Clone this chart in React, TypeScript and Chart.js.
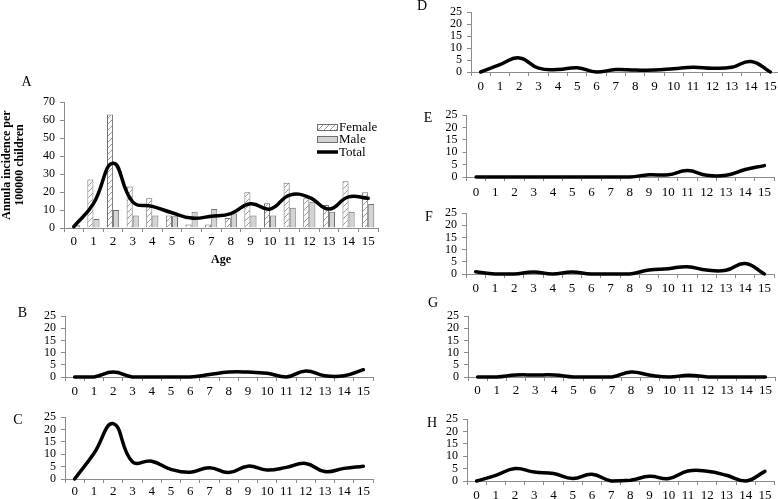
import React, { useEffect, useRef } from 'react';
import { Chart, registerables } from 'chart.js';

Chart.register(...registerables);

// ---------- data ----------
const ages = ['0', '1', '2', '3', '4', '5', '6', '7', '8', '9', '10', '11', '12', '13', '14', '15'];

const femaleA = [0.5, 27, 63, 23, 16.5, 7, 2, 2, 5.5, 19.8, 13.7, 25.2, 16.5, 12.8, 26, 19.8];
const maleA = [1.5, 5, 10, 7, 7, 6.5, 9, 10.5, 8, 7, 7, 11.3, 14.6, 9, 9, 13.3];
const totalA = [0.7, 13.5, 36, 14.5, 12, 8.5, 5.5, 6.5, 8, 13.5, 10.5, 18.3, 17, 10.5, 17.3, 16.5];

const panelB = [0, 0, 2, 0, 0, 0, 0, 1, 2, 2, 1.5, 0, 2.5, 0.5, 0.5, 3];
const panelC = [0, 10.3, 22.4, 7, 7.2, 3.9, 2.7, 4.6, 2.6, 5.2, 3.6, 4.7, 6.3, 3, 4.3, 5.2];
const panelD = [0, 3.1, 5.9, 1.6, 1, 1.8, 0, 1, 0.8, 0.8, 1.4, 2, 1.6, 2, 4.4, 0];
const panelE = [0, 0, 0, 0, 0, 0, 0, 0, 0, 0.9, 0.9, 2.6, 0.7, 0.7, 3, 4.6];
const panelF = [0.9, 0, 0, 0.8, 0, 0.8, 0, 0, 0, 1.6, 2.2, 3, 1.6, 1.5, 4.3, 0];
const panelG = [0, 0, 0.8, 0.8, 0.8, 0, 0, 0, 2, 0.7, 0, 0.7, 0, 0, 0, 0];
const panelH = [0, 2.3, 5, 3.6, 3, 1, 2.7, 0, 0.3, 1.9, 1, 4, 3.9, 2.3, 0, 3.9];

const seriesNames = ['Female', 'Male', 'Total'];
const yTitleLines = ['Annula incidence per', '100000 children'];
const xTitle = 'Age';

// ---------- styles / layout ----------
const FONT = "'Liberation Serif', 'Times New Roman', serif";
const AXIS = '#8c8c8c';

type Box = { x: number; y: number; w: number; h: number; L: number; R: number; T: number; B: number; lab: number };

const boxA: Box = { x: 0, y: 70, w: 400, h: 200, L: 64, R: 378, T: 102, B: 228, lab: 14 };
const smallPanels: { box: Box; values: number[] }[] = [
  { box: { x: 0, y: 300, w: 400, h: 100, L: 65, R: 373, T: 316, B: 377, lab: 15 }, values: panelB },
  { box: { x: 0, y: 405, w: 400, h: 94, L: 65, R: 373, T: 417, B: 479, lab: 13 }, values: panelC },
  { box: { x: 420, y: 0, w: 362, h: 100, L: 471, R: 780, T: 11, B: 72, lab: 15 }, values: panelD },
  { box: { x: 420, y: 100, w: 362, h: 100, L: 466.5, R: 774, T: 115, B: 177, lab: 16 }, values: panelE },
  { box: { x: 420, y: 200, w: 362, h: 100, L: 466, R: 774, T: 213, B: 274, lab: 15 }, values: panelF },
  { box: { x: 420, y: 300, w: 362, h: 100, L: 468, R: 775, T: 316, B: 377, lab: 14 }, values: panelG },
  { box: { x: 420, y: 405, w: 362, h: 94, L: 467, R: 774.5, T: 419, B: 481, lab: 15 }, values: panelH },
];

const letters: [string, number, number][] = [
  ['A', 26.5, 81.5],
  ['B', 22.5, 313],
  ['C', 18, 420],
  ['D', 422, 6],
  ['E', 428, 118],
  ['F', 429, 217],
  ['G', 433, 303],
  ['H', 432, 423],
];

function makeHatch(): CanvasPattern | string {
  const c = document.createElement('canvas');
  c.width = 6;
  c.height = 6;
  const g = c.getContext('2d');
  if (!g) return '#fff';
  g.fillStyle = '#ffffff';
  g.fillRect(0, 0, 6, 6);
  g.strokeStyle = '#9a9a9a';
  g.lineWidth = 1;
  g.beginPath();
  g.moveTo(-1, 7);
  g.lineTo(7, -1);
  g.moveTo(-1, 1);
  g.lineTo(1, -1);
  g.moveTo(5, 7);
  g.lineTo(7, 5);
  g.stroke();
  return g.createPattern(c, 'repeat') || '#fff';
}

function makeOptions(s: Box, yMax: number, yStep: number): any {
  return {
    responsive: false,
    animation: false,
    devicePixelRatio: 1,
    events: [],
    layout: { padding: { left: 0, top: s.T - s.y, right: s.x + s.w - s.R, bottom: 0 } },
    plugins: { legend: { display: false }, tooltip: { enabled: false }, title: { display: false } },
    scales: {
      x: {
        type: 'category',
        offset: true,
        grid: { offset: true, drawOnChartArea: false, drawTicks: true, tickLength: 4, color: AXIS, lineWidth: 1 },
        border: { display: true, color: AXIS, width: 1 },
        ticks: {
          color: '#000',
          font: { family: FONT, size: 13, lineHeight: 1 },
          padding: s.lab - 4 - 6.5,
          autoSkip: false,
          maxRotation: 0,
          minRotation: 0,
        },
        afterFit: (sc: any) => {
          sc.height = s.y + s.h - s.B;
        },
      },
      y: {
        min: 0,
        max: yMax,
        grid: { drawOnChartArea: false, drawTicks: true, tickLength: 4, color: AXIS, lineWidth: 1 },
        border: { display: true, color: AXIS, width: 1 },
        ticks: { stepSize: yStep, autoSkip: false, color: '#000', font: { family: FONT, size: 12 }, padding: 5 },
        afterFit: (sc: any) => {
          sc.width = s.L - s.x;
        },
      },
    },
  };
}

const canvasStyle = (b: Box): React.CSSProperties => ({
  position: 'absolute',
  left: b.x,
  top: b.y,
  width: b.w,
  height: b.h,
});

function PanelA() {
  const ref = useRef<HTMLCanvasElement>(null);
  useEffect(() => {
    if (!ref.current) return;
    const hatch = makeHatch();
    const maleFill = '#d3d3d3';
    const barBorder = '#6e6e6e';
    const opts = makeOptions(boxA, 70, 10);
    opts.scales.y.title = {
      display: true,
      text: yTitleLines,
      color: '#000',
      font: { family: FONT, size: 12, weight: 'bold', lineHeight: 1.1 },
      padding: { top: 0.5, bottom: 0 },
    };
    opts.scales.x.title = {
      display: true,
      text: xTitle,
      color: '#000',
      font: { family: FONT, size: 12, weight: 'bold', lineHeight: 1 },
      padding: { top: 0, bottom: 4 },
    };
    const legendPlugin = {
      id: 'panelALegend',
      afterDraw(chart: any) {
        const ctx = chart.ctx as CanvasRenderingContext2D;
        const sx = 317;
        const sw = 21;
        const rows = [127 - boxA.y, 139 - boxA.y, 152 - boxA.y];
        ctx.save();
        ctx.fillStyle = hatch as any;
        ctx.fillRect(sx, rows[0] - 3, sw, 6);
        ctx.strokeStyle = barBorder;
        ctx.lineWidth = 1;
        ctx.strokeRect(sx + 0.5, rows[0] - 3 + 0.5, sw - 1, 6);
        ctx.fillStyle = maleFill;
        ctx.fillRect(sx, rows[1] - 3, sw, 6);
        ctx.strokeRect(sx + 0.5, rows[1] - 3 + 0.5, sw - 1, 6);
        ctx.strokeStyle = '#000';
        ctx.lineWidth = 3.5;
        ctx.beginPath();
        ctx.moveTo(sx, rows[2]);
        ctx.lineTo(sx + sw, rows[2]);
        ctx.stroke();
        ctx.fillStyle = '#000';
        ctx.font = `13px ${FONT}`;
        ctx.textBaseline = 'middle';
        ctx.textAlign = 'left';
        chart.data.datasets.forEach((ds: any, i: number) => {
          ctx.fillText(ds.label, sx + sw + 1, rows[i] + 0.5);
        });
        ctx.restore();
      },
    };
    const chart = new Chart(ref.current, {
      type: 'bar',
      data: {
        labels: ages,
        datasets: [
          {
            type: 'bar',
            label: seriesNames[0],
            data: femaleA,
            backgroundColor: hatch as any,
            borderColor: barBorder,
            borderWidth: 1,
            categoryPercentage: 0.62,
            barPercentage: 1,
            order: 1,
          },
          {
            type: 'bar',
            label: seriesNames[1],
            data: maleA,
            backgroundColor: maleFill,
            borderColor: barBorder,
            borderWidth: 1,
            categoryPercentage: 0.62,
            barPercentage: 1,
            order: 1,
          },
          {
            type: 'line',
            label: seriesNames[2],
            data: totalA,
            borderColor: '#000',
            borderWidth: 3.5,
            pointRadius: 0,
            tension: 0.45,
            fill: false,
            clip: false,
            borderCapStyle: 'round',
            borderJoinStyle: 'round',
            order: 0,
          } as any,
        ],
      },
      options: opts,
      plugins: [legendPlugin],
    });
    return () => chart.destroy();
  }, []);
  return <canvas ref={ref} width={boxA.w} height={boxA.h} style={canvasStyle(boxA)} />;
}

function SmallPanel({ box, values }: { box: Box; values: number[] }) {
  const ref = useRef<HTMLCanvasElement>(null);
  useEffect(() => {
    if (!ref.current) return;
    const chart = new Chart(ref.current, {
      type: 'line',
      data: {
        labels: ages,
        datasets: [
          {
            label: seriesNames[2],
            data: values,
            borderColor: '#000',
            borderWidth: 3.5,
            pointRadius: 0,
            tension: 0.45,
            fill: false,
            clip: false,
            borderCapStyle: 'round',
            borderJoinStyle: 'round',
          } as any,
        ],
      },
      options: makeOptions(box, 25, 5),
    });
    return () => chart.destroy();
  }, [box, values]);
  return <canvas ref={ref} width={box.w} height={box.h} style={canvasStyle(box)} />;
}

export default function App() {
  return (
    <div
      style={{
        position: 'absolute',
        left: 0,
        top: 0,
        width: 778,
        height: 499,
        overflow: 'hidden',
        background: '#fff',
      }}
    >
      <PanelA />
      {smallPanels.map((p, i) => (
        <SmallPanel key={i} box={p.box} values={p.values} />
      ))}
      {letters.map(([t, cx, cy]) => (
        <div
          key={t}
          style={{
            position: 'absolute',
            left: cx,
            top: cy,
            transform: 'translate(-50%, -50%)',
            fontFamily: FONT,
            fontSize: 14,
            lineHeight: 1,
            color: '#000',
          }}
        >
          {t}
        </div>
      ))}
    </div>
  );
}
